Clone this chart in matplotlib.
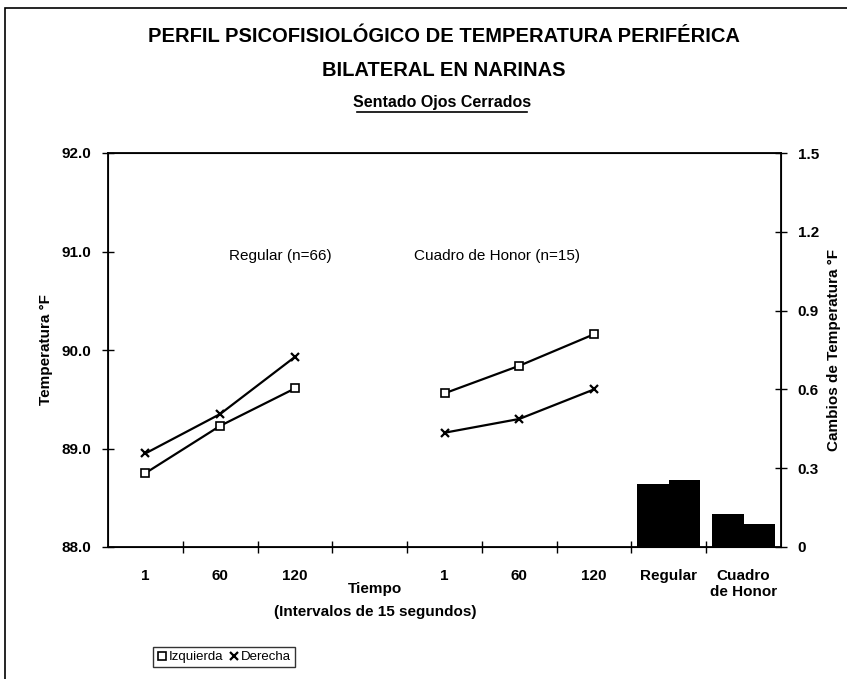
import matplotlib
matplotlib.use("Agg")
import matplotlib.pyplot as plt
from matplotlib.lines import Line2D
from matplotlib.patches import Rectangle

plt.rcParams["font.family"] = ["Liberation Sans", "DejaVu Sans"]

# Data
time_labels = ["1", "60", "120"]
regular_izq = [88.75, 89.23, 89.61]
regular_der = [88.95, 89.35, 89.93]
honor_izq = [89.56, 89.84, 90.16]
honor_der = [89.16, 89.30, 89.60]
bar_groups = ["Regular", "Cuadro\nde Honor"]
change_izq = [0.24, 0.126]
change_der = [0.255, 0.088]

category_labels = time_labels + [""] + time_labels + bar_groups

fig = plt.figure(figsize=(8.47, 6.79), dpi=100)
ax = fig.add_axes([108 / 847, 1 - 547 / 679, (781 - 108) / 847, (547 - 153) / 679])

regular_x = [0.5, 1.5, 2.5]
honor_x = [4.5, 5.5, 6.5]
line_kw = dict(color="black", linewidth=1.6)
square_kw = dict(marker="s", markersize=5.5, markerfacecolor="white",
                 markeredgecolor="black", markeredgewidth=1.2)
cross_kw = dict(marker="x", markersize=6, markeredgewidth=1.6)
ax.plot(regular_x, regular_izq, **square_kw, **line_kw)
ax.plot(regular_x, regular_der, **cross_kw, **line_kw)
ax.plot(honor_x, honor_izq, **square_kw, **line_kw)
ax.plot(honor_x, honor_der, **cross_kw, **line_kw)

ax.set_xlim(0, 9)
ax.set_ylim(88.0, 92.0)
ax.set_yticks([88.0, 89.0, 90.0, 91.0, 92.0])
ax.set_yticklabels([f"{v:.1f}" for v in [88.0, 89.0, 90.0, 91.0, 92.0]],
                   fontsize=11, fontweight="bold")
ax.set_xticks(range(1, 9))
ax.set_xticklabels([])
ax.set_xticks([i + 0.5 for i in range(9)], minor=True)
ax.set_xticklabels(category_labels, minor=True, fontsize=11, fontweight="bold", va="top")
ax.tick_params(axis="x", which="minor", length=0, pad=16)
ax.tick_params(axis="x", which="major", direction="inout", length=8, width=1)
ax.tick_params(axis="y", direction="inout", length=8, width=1, pad=8)
ax.set_ylabel("Temperatura °F", fontsize=11, fontweight="bold", labelpad=6)
for spine in ax.spines.values():
    spine.set_linewidth(1.3)

ax.text(2.3, 90.95, "Regular (n=66)", ha="center", va="center", fontsize=11)
ax.text(5.2, 90.95, "Cuadro de Honor (n=15)", ha="center", va="center", fontsize=11)

ax2 = ax.twinx()
ax2.set_ylim(0, 1.5)
ax2.bar([7.5 - 0.21, 8.5 - 0.21], change_izq, width=0.42, color="black")
ax2.bar([7.5 + 0.21, 8.5 + 0.21], change_der, width=0.42, color="black")
ax2.set_yticks([0, 0.3, 0.6, 0.9, 1.2, 1.5])
ax2.set_yticklabels(["0", "0.3", "0.6", "0.9", "1.2", "1.5"], fontsize=11, fontweight="bold")
ax2.tick_params(axis="y", direction="inout", length=8, width=1, pad=8)
ax2.set_ylabel("Cambios de Temperatura °F", fontsize=11, fontweight="bold", labelpad=6)

fig.text(375 / 847, 1 - 589 / 679, "Tiempo", ha="center", va="center",
         fontsize=11, fontweight="bold")
fig.text(375 / 847, 1 - 612 / 679, "(Intervalos de 15 segundos)", ha="center", va="center",
         fontsize=11, fontweight="bold")

fig.text(444 / 847, 1 - 36 / 679, "PERFIL PSICOFISIOLÓGICO DE TEMPERATURA PERIFÉRICA",
         ha="center", va="center", fontsize=14.5, fontweight="bold")
fig.text(444 / 847, 1 - 70 / 679, "BILATERAL EN NARINAS",
         ha="center", va="center", fontsize=14.5, fontweight="bold")
fig.text(442 / 847, 1 - 102 / 679, "Sentado Ojos Cerrados",
         ha="center", va="center", fontsize=11.5, fontweight="bold")
fig.add_artist(Line2D([357 / 847, 527 / 847], [1 - 112 / 679, 1 - 112 / 679],
                      transform=fig.transFigure, color="black", linewidth=1.2))

handles = [
    Line2D([], [], linestyle="none", **square_kw),
    Line2D([], [], linestyle="none", color="black", **cross_kw),
]
fig.legend(handles, ["Izquierda", "Derecha"], loc="center",
           bbox_to_anchor=(224 / 847, 1 - 657 / 679), ncol=2, fontsize=9.5,
           frameon=True, fancybox=False, edgecolor="black", handlelength=0.7,
           handletextpad=0.2, columnspacing=0.4, borderpad=0.3, borderaxespad=0)

fig.add_artist(Rectangle((5 / 847, -0.01), 1.1, 1 - 8 / 679 + 0.01,
                         transform=fig.transFigure, fill=False,
                         edgecolor="black", linewidth=1.2))

fig.savefig("out.png", dpi=100)
